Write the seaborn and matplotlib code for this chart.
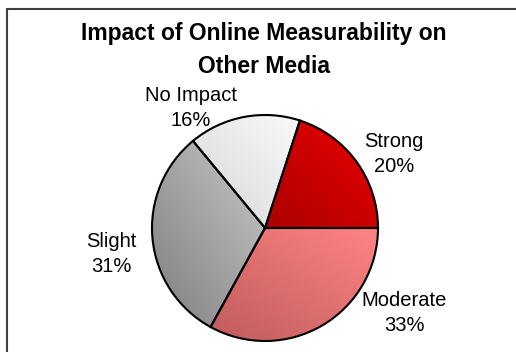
import numpy as np
import matplotlib
matplotlib.use("Agg")
import matplotlib.pyplot as plt
import seaborn as sns
from matplotlib.colors import LinearSegmentedColormap
from matplotlib.lines import Line2D

# Data
categories = ["Strong", "No Impact", "Slight", "Moderate"]
shares = [20, 16, 31, 33]
# light (top-right) and dark (bottom-left) end of each slice gradient
light_colors = ["#EC0000", "#FAFAFA", "#C8C8C8", "#FF8484"]
dark_colors = ["#AA0000", "#D6D6D6", "#7E7E7E", "#C05C5C"]

sns.set_theme(style="white")
plt.rcParams["font.family"] = ["Liberation Sans", "DejaVu Sans"]

W, H = 516, 352
fig = plt.figure(figsize=(W / 100, H / 100), dpi=100)
ax = fig.add_axes([0, 0, 1, 1])

center = (265, H - 228)
radius = 113
wedges, _ = ax.pie(shares, startangle=0, counterclock=True, center=center,
                   radius=radius, frame=True,
                   wedgeprops=dict(edgecolor="black", linewidth=1.5))

# Diagonal gradient fill in each slice
for w, c1, c2 in zip(wedges, light_colors, dark_colors):
    w.set_facecolor("none")
    ext = w.get_path().get_extents()
    cmap = LinearSegmentedColormap.from_list("g", [c2, c1])
    yy, xx = np.mgrid[0:1:100j, 0:1:100j]
    grad = (xx + yy) / 2
    im = ax.imshow(grad, cmap=cmap, origin="lower", extent=[ext.x0, ext.x1, ext.y0, ext.y1],
                   interpolation="bilinear", zorder=w.get_zorder() - 0.5)
    im.set_clip_path(w)

ax.set_xlim(0, W)
ax.set_ylim(0, H)
ax.set_aspect("equal")
ax.axis("off")

# Slice labels
label_pos = [(394, 154), (191, 108), (111, 254), (404, 313)]
for name, share, (x, y) in zip(categories, shares, label_pos):
    ax.text(x, H - y, f"{name}\n{share}%", ha="center", va="center",
            fontsize=14.5, color="black", linespacing=1.4)

# Title
ax.text(264, H - 50, "Impact of Online Measurability on\nOther Media", ha="center",
        va="center", fontsize=16.5, fontweight="bold", color="black", linespacing=1.6)

# Chart area frame (left and top)
fig.add_artist(Line2D([6.5 / W, 6.5 / W], [0, 1 - 9 / H], transform=fig.transFigure,
                      color="#404040", linewidth=1.5))
fig.add_artist(Line2D([6.5 / W, 1], [1 - 9 / H, 1 - 9 / H], transform=fig.transFigure,
                      color="#404040", linewidth=1.5))

fig.savefig("out.png", dpi=100)
